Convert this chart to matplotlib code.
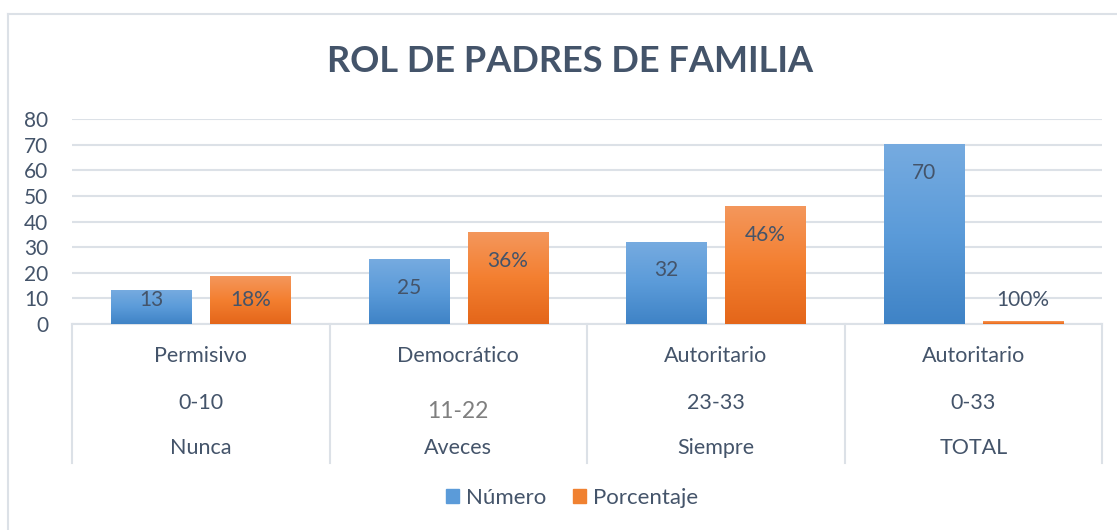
import matplotlib
matplotlib.use("Agg")
import matplotlib.pyplot as plt
import numpy as np
from matplotlib.colors import LinearSegmentedColormap
from matplotlib.lines import Line2D
from matplotlib.patches import Rectangle
import matplotlib.transforms as mtransforms

# ---- data ----
estilos = ['Permisivo', 'Democrático', 'Autoritario', 'Autoritario']
rangos = ['0-10', '11-22', '23-33', '0-33']
frecuencias = ['Nunca', 'Aveces', 'Siempre', 'TOTAL']
numero = [13, 25, 32, 70]
porcentaje = [18.57, 35.71, 45.71, 1.0]
porcentaje_labels = ['18%', '36%', '46%', '100%']
yticks = [0, 10, 20, 30, 40, 50, 60, 70, 80]
title = 'ROL DE PADRES DE FAMILIA'
series_names = ['Número', 'Porcentaje']

plt.rcParams['font.family'] = ['Lato', 'DejaVu Sans']
TXT = '#44546A'
GRID = '#dce1e7'

fig = plt.figure(figsize=(11.17, 5.30), dpi=100)
W, H = 1117, 530
left, right, y0px, y80px = 72, 1102, 324, 119
ax = fig.add_axes([left / W, 1 - y0px / H, (right - left) / W, (y0px - y80px) / H])

x = np.arange(len(numero))
bw = 0.311
off = 0.192
blue_cmap = LinearSegmentedColormap.from_list('b', ['#3f83c6', '#5b9bd9', '#76abe0'])
orange_cmap = LinearSegmentedColormap.from_list('o', ['#e4661a', '#f37f30', '#f4975c'])
grad = np.linspace(0, 1, 256).reshape(-1, 1)

bars_b = ax.bar(x - off, numero, bw, color='none', zorder=3)
bars_o = ax.bar(x + off, porcentaje, bw, color='none', zorder=3)
for bars, cm in ((bars_b, blue_cmap), (bars_o, orange_cmap)):
    for b in bars:
        bx, by, bwid, bh = b.get_x(), b.get_y(), b.get_width(), b.get_height()
        ax.imshow(grad, extent=[bx, bx + bwid, by, by + bh], origin='lower',
                  aspect='auto', cmap=cm, zorder=3)

ax.set_xlim(-0.5, len(numero) - 0.5)
ax.set_ylim(0, 80)
ax.set_yticks(yticks)
ax.set_yticklabels([str(v) for v in yticks], fontsize=15, color=TXT)
ax.tick_params(axis='y', length=0, pad=17)
ax.set_xticks([])
ax.grid(axis='y', color=GRID, lw=1.5, zorder=0)
for s in ['top', 'right', 'left']:
    ax.spines[s].set_visible(False)
ax.spines['bottom'].set_color(GRID)
ax.spines['bottom'].set_linewidth(1.5)

# data labels
def lab_y(h):
    return max(h - 11, 9.5)

for xi, v in zip(x, numero):
    ax.text(xi - off, lab_y(v), str(v), ha='center', va='center', fontsize=15, color=TXT, zorder=5)
for xi, v, s in zip(x, porcentaje, porcentaje_labels):
    ax.text(xi + off, lab_y(v), s, ha='center', va='center', fontsize=15, color=TXT, zorder=5)

# multi-level category axis
trans = mtransforms.blended_transform_factory(ax.transData, ax.transAxes)
ybot = -(463 - y0px) / (y0px - y80px)
for b in np.arange(-0.5, len(numero), 1.0):
    ax.add_line(Line2D([b, b], [0, ybot], transform=trans, color=GRID, lw=1.5, clip_on=False))

def ay(px):
    return -(px - y0px) / (y0px - y80px)

for i in range(len(numero)):
    ax.text(i, ay(356), estilos[i], transform=trans, ha='center', va='center', fontsize=15.5, color=TXT)
    if i == 1:
        ax.text(i, ay(411), rangos[i], transform=trans, ha='center', va='center', fontsize=16.5, color='#7f7f7f')
    else:
        ax.text(i, ay(403), rangos[i], transform=trans, ha='center', va='center', fontsize=15.5, color=TXT)
    ax.text(i, ay(448), frecuencias[i], transform=trans, ha='center', va='center', fontsize=15.5, color=TXT)

# title
fig.text(570 / W, 1 - 62 / H, title, ha='center', va='center', fontsize=26, fontweight='bold', color=TXT)

# legend
handles = [Rectangle((0, 0), 1, 1, color='#5b9bd9'), Rectangle((0, 0), 1, 1, color='#f08131')]
fig.legend(handles, series_names, loc='center', bbox_to_anchor=(572 / W, 1 - 498 / H), ncol=2,
           frameon=False, fontsize=16, labelcolor=TXT, handlelength=0.6, handleheight=0.6,
           handletextpad=0.3, columnspacing=1.2)

# chart border
fig.add_artist(Line2D([7.5 / W, 7.5 / W], [0, 1 - 14 / H], transform=fig.transFigure, color=GRID, lw=1.5))
fig.add_artist(Line2D([7.5 / W, 1], [1 - 14 / H, 1 - 14 / H], transform=fig.transFigure, color=GRID, lw=1.5))

fig.savefig('out.png', dpi=100, facecolor='white')
